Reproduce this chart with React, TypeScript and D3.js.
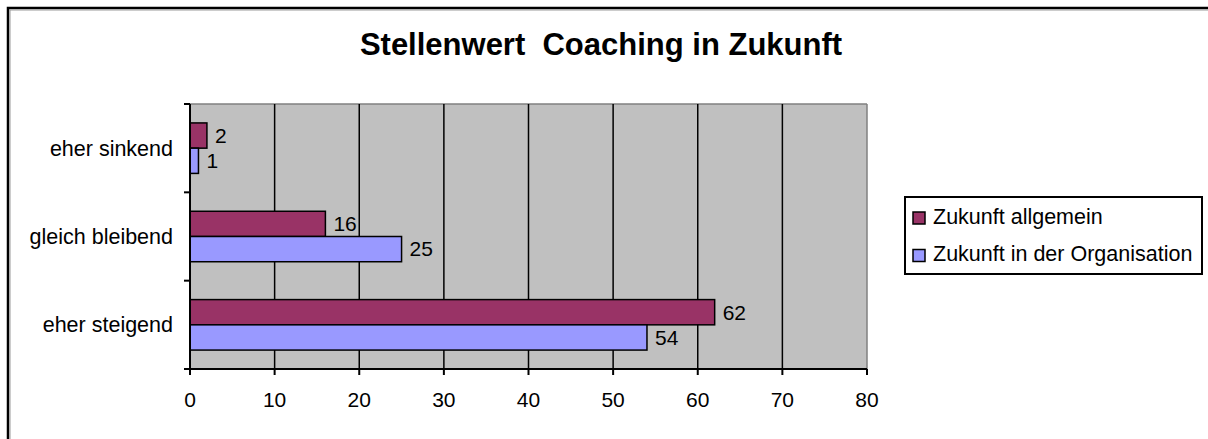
import * as d3 from "d3";

const categories = ["eher sinkend", "gleich bleibend", "eher steigend"];
const seriesNames = ["Zukunft allgemein", "Zukunft in der Organisation"];
const allgemein = [2, 16, 62];
const organisation = [1, 25, 54];
const xTicks = [0, 10, 20, 30, 40, 50, 60, 70, 80];
const colors = ["#993366", "#9999FF"];

const W = 1208;
const H = 439;
const font = "Liberation Sans, Arial, sans-serif";

export default function App() {
  const x = d3.scaleLinear().domain([0, 80]).range([190, 867]);
  const y = d3.scaleBand<string>().domain(categories).range([104, 369]).padding(0);
  const inner = d3
    .scaleBand<string>()
    .domain(seriesNames)
    .range([0, y.bandwidth()])
    .paddingInner(0)
    .paddingOuter(0.75);

  const values = [allgemein, organisation];
  const [x0, x1] = x.range();
  const [y0, y1] = y.range();
  const boundaries = categories.map((c) => y(c)!).concat([y1]);

  return (
    <svg
      width={W}
      height={H}
      style={{ position: "absolute", left: 0, top: 0, fontFamily: font }}
    >
      <rect x={0} y={0} width={W} height={H} fill="#fff" />
      {/* outer frame */}
      <rect x={8} y={8} width={1400} height={600} fill="none" stroke="#000" strokeWidth={2.5} />
      <rect x={10} y={10} width={1400} height={600} fill="none" stroke="#999" strokeWidth={1} />

      <text
        x={601}
        y={55}
        textAnchor="middle"
        fontSize={31}
        fontWeight="bold"
        style={{ whiteSpace: "pre" }}
      >
        {"Stellenwert  Coaching in Zukunft"}
      </text>

      {/* plot area */}
      <rect x={x0} y={y0} width={x1 - x0} height={y1 - y0} fill="#C0C0C0" />
      <line x1={x0} x2={x1} y1={y0} y2={y0} stroke="#808080" strokeWidth={1.5} />
      <line x1={x1} x2={x1} y1={y0} y2={y1} stroke="#808080" strokeWidth={1.5} />
      {xTicks.slice(1, -1).map((t) => (
        <line key={t} x1={x(t)} x2={x(t)} y1={y0} y2={y1} stroke="#000" strokeWidth={1.5} />
      ))}

      {/* bars */}
      {categories.map((c, i) =>
        seriesNames.map((s, j) => {
          const v = values[j][i];
          const by = y(c)! + inner(s)!;
          return (
            <g key={c + s}>
              <rect
                x={x(0)}
                y={by}
                width={x(v) - x(0)}
                height={inner.bandwidth()}
                fill={colors[j]}
                stroke="#000"
                strokeWidth={1.5}
              />
              <text
                x={x(v) + 8}
                y={by + inner.bandwidth() / 2}
                dy="0.35em"
                fontSize={21}
                fill="#000"
              >
                {v}
              </text>
            </g>
          );
        })
      )}

      {/* axes */}
      <line x1={x0} x2={x0} y1={y0} y2={y1} stroke="#000" strokeWidth={2} />
      <line x1={x0} x2={x1} y1={y1} y2={y1} stroke="#000" strokeWidth={2} />
      {boundaries.map((b, i) => (
        <line key={i} x1={x0 - 6} x2={x0} y1={b} y2={b} stroke="#000" strokeWidth={2} />
      ))}
      {xTicks.map((t) => (
        <g key={t}>
          <line x1={x(t)} x2={x(t)} y1={y1} y2={y1 + 6} stroke="#000" strokeWidth={2} />
          <text x={x(t)} y={y1 + 38} textAnchor="middle" fontSize={21}>
            {t}
          </text>
        </g>
      ))}
      {categories.map((c) => (
        <text
          key={c}
          x={173}
          y={y(c)! + y.bandwidth() / 2}
          dy="0.35em"
          textAnchor="end"
          fontSize={21.5}
        >
          {c}
        </text>
      ))}

      {/* legend */}
      <rect x={905} y={197} width={297} height={77} fill="#fff" stroke="#000" strokeWidth={2} />
      {seriesNames.map((s, j) => (
        <g key={s} transform={`translate(913, ${212 + j * 37.5})`}>
          <rect x={0} y={0} width={12} height={12} fill={colors[j]} stroke="#000" strokeWidth={1.5} />
          <text x={20} y={11.5} fontSize={21.5}>
            {s}
          </text>
        </g>
      ))}
    </svg>
  );
}
